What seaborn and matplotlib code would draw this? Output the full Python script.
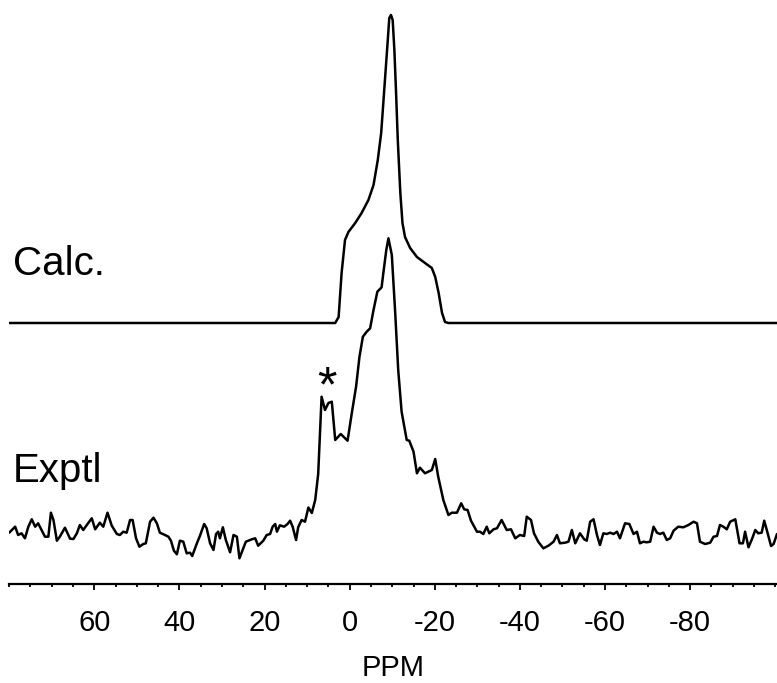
import matplotlib
matplotlib.use("Agg")
import matplotlib.pyplot as plt
from matplotlib.ticker import FixedLocator, MultipleLocator
import seaborn as sns
import pandas as pd

# ---- data (ppm, arbitrary intensity) ----
calc_ppm = [80, 3.4, 2.6, 1.9, 1.1, 0.3, -1.3, -2.8, -4.4, -5.6, -6.6, -7.4, -7.9,
            -8.5, -9.0, -9.3, -9.7, -10.1, -10.5, -10.9, -11.3, -11.9, -12.4, -13.0,
            -14.2, -15.8, -17.7, -19.3, -20.1, -20.9, -21.7, -22.4, -23.2, -100.4]
calc_int = [0, 0, 6, 50, 83, 91, 100, 110, 123, 138, 163, 190, 220,
            256, 286, 305, 308, 303, 273, 230, 183, 130, 100, 86,
            75, 66, 60, 55, 46, 30, 10, 1, 0, 0]

exptl_ppm = [80.0, 78.6, 77.9, 77.1, 76.3, 75.5, 74.7, 73.9, 73.2, 72.4, 71.6, 70.8,
             70.2, 69.6, 68.8, 68.1, 66.9, 65.7, 64.9, 64.1, 63.4, 62.6, 61.6, 60.6,
             59.8, 58.7, 57.9, 56.9, 55.9, 54.7, 54.0, 53.2, 52.4, 51.6, 51.0, 50.2,
             49.4, 48.5, 47.9, 46.9, 46.1, 45.3, 44.6, 43.4, 42.6, 42.0, 41.3, 40.6,
             39.9, 39.1, 38.3, 37.5, 37.0, 35.9, 35.2, 34.2, 33.6, 32.8, 32.0, 31.4,
             30.9, 30.5, 29.8, 29.1, 28.1, 27.3, 26.5, 25.9, 25.4, 24.4, 23.0, 22.2,
             21.5, 20.3, 19.5, 18.7, 18.1, 17.5, 17.1, 16.4, 15.4, 14.6, 14.0, 13.4,
             12.6, 12.1, 11.3, 10.5, 9.7, 8.9, 8.1, 7.4, 6.6, 5.8, 5.0, 4.2,
             3.4, 2.1, 0.5, -0.5, -1.5, -2.3, -3.1, -4.0, -4.8, -5.6, -6.5, -7.5,
             -7.9, -8.6, -9.1, -9.9, -10.7, -11.4, -12.2, -13.4, -14.0, -15.0, -15.8, -16.5,
             -17.7, -19.3, -20.1, -20.8, -22.0, -23.2, -24.0, -25.2, -26.2, -26.9, -27.7, -28.5,
             -29.9, -30.6, -31.4, -32.2, -32.8, -33.8, -34.6, -35.7, -36.9, -37.9, -38.9, -40.0,
             -41.0, -41.6, -42.6, -43.3, -44.3, -45.5, -46.7, -47.9, -48.7, -49.4, -50.6, -51.4,
             -52.2, -53.0, -54.1, -55.1, -55.7, -56.5, -57.3, -58.1, -58.8, -59.6, -60.4, -61.2,
             -62.0, -62.8, -63.5, -64.7, -65.7, -66.7, -67.5, -68.2, -69.0, -69.8, -70.6, -71.4,
             -72.2, -72.9, -73.7, -74.5, -75.3, -76.1, -77.2, -78.4, -79.6, -80.8, -81.6, -82.3,
             -83.5, -84.7, -85.5, -86.3, -87.0, -87.8, -88.6, -89.4, -90.6, -91.6, -92.4, -92.9,
             -93.7, -94.5, -95.3, -96.0, -96.8, -97.4, -98.0, -99.0, -99.6, -100.4]
exptl_int = [2.3, 8.3, 0, 1.7, -3.3, 8.3, 15.7, 8.3, 11.7, 5, -1.7, -1.7,
             22.3, 15, -5.7, -1.7, 7.3, -3.7, -4, 1.7, 10, 5, 11, 16.7,
             5.7, 12.3, 8.3, 22.3, 9.3, 1, 0, 3.3, 2.3, 15, 15, -3.3,
             -11.7, -9, -8.3, 13.3, 17.3, 11.7, 2.3, 0, -1.7, -5.7, -15.7, -19.3,
             -5.7, -6.7, -18.3, -17.7, -21, -8.3, -1, 11, 6.7, -8.3, -15, 1,
             3.3, -3.3, 7.7, -5, -17.3, 0, -1.7, -23.3, -17.7, -6.7, -4.3, -3.3,
             -10.7, -5.7, 0, 1, 8.3, 11, 3.3, 9.7, 8.3, 11, 14.3, 8.3,
             -5, 7.7, 15, 13.3, 27.5, 22, 35, 61, 138.3, 125, 132, 133.3,
             95, 101, 94.3, 122, 148.3, 178.3, 198.3, 203.3, 206.7, 225, 243.3, 247.7,
             261.7, 285, 296.7, 280, 221.7, 165, 123.3, 95, 94.3, 83.3, 61.7, 67.3,
             61.7, 65, 76, 58.3, 35, 20, 22.3, 22.3, 31.7, 25.7, 25, 14.3,
             3.3, 3.3, 1, 8.3, 1.7, 5.7, 6.7, 15, 5, 5.7, -3.3, 0,
             -1, 18.3, 15, 1.7, -6.7, -13.3, -10.7, -6.7, 0, -8.3, -7.7, -6.7,
             5, -8.3, 1.7, -4.3, -5.7, 13.3, 15.7, 0, -10, 1.7, 1, 2.3,
             1, 3.3, -3.3, 11.7, 11, 1, 3.3, -8.3, -6.7, -7.3, -6.7, 8.3,
             2.3, 1, 2.3, -5, -3.3, 4.3, 8.3, 7.7, 10, 13.3, 11.7, -6.7,
             -9, -7.7, -1.7, -1, 10, 8.3, 5.7, 13.3, 15.7, -8.3, -8.3, 3.3,
             -12.3, -4.3, 5, 1.7, 2.3, 14.3, 5, -11, -9, 1]

calc_offset = 261
exptl_offset = 49
major_ticks = [60, 40, 20, 0, -20, -40, -60, -80]
tick_labels = ["60", "40", "20", "0", "-20", "-40", "-60", "-80"]

# ---- style ----
sns.set_theme(style="white")
plt.rcParams["font.family"] = ["Liberation Sans", "DejaVu Sans"]
plt.rcParams["axes.unicode_minus"] = False
plt.rcParams["text.color"] = "black"
plt.rcParams["axes.labelcolor"] = "black"
plt.rcParams["xtick.color"] = "black"
plt.rcParams["xtick.labelcolor"] = "black"

W, H = 777, 683
fig = plt.figure(figsize=(W / 100, H / 100), dpi=100)
ax = fig.add_axes([9.2 / W, (H - 584) / H, (777 - 9.2) / W, 584 / H])

calc_df = pd.DataFrame({"ppm": calc_ppm,
                        "y": [v + calc_offset for v in calc_int]})
exptl_df = pd.DataFrame({"ppm": exptl_ppm,
                         "y": [v + exptl_offset for v in exptl_int]})

sns.lineplot(data=calc_df, x="ppm", y="y", sort=False, estimator=None,
             color="black", linewidth=1.8, ax=ax)
sns.lineplot(data=exptl_df, x="ppm", y="y", sort=False, estimator=None,
             color="black", linewidth=1.8, ax=ax)

ax.set_xlim(80, -100.4)
ax.set_ylim(0, 584)

for s in ["left", "right", "top"]:
    ax.spines[s].set_visible(False)
ax.spines["bottom"].set_linewidth(1.6)
ax.spines["bottom"].set_color("black")

ax.xaxis.set_major_locator(FixedLocator(major_ticks))
ax.set_xticklabels(tick_labels)
ax.xaxis.set_minor_locator(MultipleLocator(5))
ax.tick_params(axis="x", which="major", direction="out", length=4, width=1.3,
               color="black", labelcolor="black", labelsize=21, pad=14, bottom=True)
ax.tick_params(axis="x", which="minor", direction="out", length=2.5, width=1.3,
               color="black", bottom=True)
ax.set_yticks([])
ax.set_ylabel("")
ax.set_xlabel("PPM", fontsize=21, labelpad=12, color="black")

fig.text(13 / W, (H - 275) / H, "Calc.", fontsize=29, ha="left", va="baseline",
         color="black")
fig.text(13 / W, (H - 482) / H, "Exptl", fontsize=29, ha="left", va="baseline",
         color="black")
ax.text(5.3, 219, "*", fontsize=36, ha="center", va="top", color="black")

fig.savefig("out.png", dpi=100)
